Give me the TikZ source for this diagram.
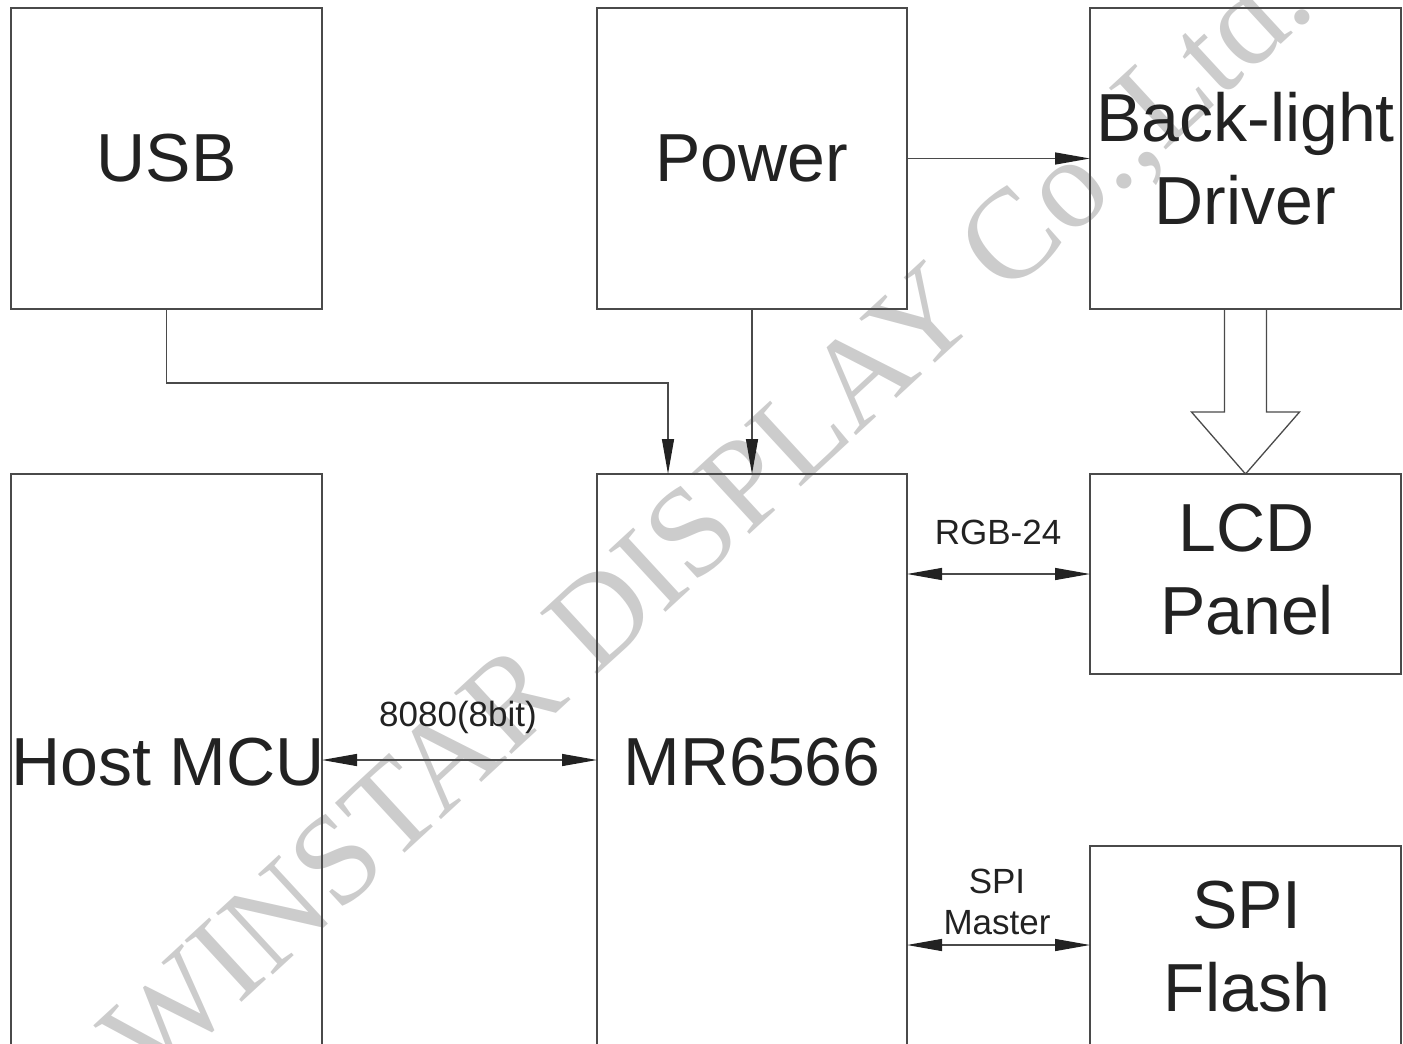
\documentclass[tikz,border=0pt]{standalone}
\usepackage{fontspec}
\setmainfont{Liberation Sans}
\newfontfamily\wmfont{Liberation Serif}
\usetikzlibrary{arrows.meta,calc}
\definecolor{txt}{HTML}{222222}
\definecolor{ln}{HTML}{4A4A4A}
\definecolor{wmc}{HTML}{CCCCCC}
\begin{document}
\begin{tikzpicture}[x=1pt,y=-1pt,
  box/.style={draw=ln, line width=1.3pt, inner sep=0pt, outer sep=0pt},
  conn/.style={draw=ln, line width=1.3pt},
  big/.style={font=\fontsize{68}{83}\selectfont, text=txt, align=center, inner sep=0pt},
  small/.style={font=\fontsize{35}{41}\selectfont, text=txt, align=center, inner sep=0pt},
  wmtext/.style={font=\wmfont\fontsize{128}{128}\selectfont, text=wmc, inner sep=0pt},
  >={Triangle[length=35pt,width=12pt,color=txt]}]
\useasboundingbox (0,0) rectangle (1403,1044);
\clip (0,0) rectangle (1403,1044);
% watermark
\node[wmtext, rotate=42.7, anchor=base west] (wmark) at (150,1088) {WINSTAR DISPLAY Co.,Ltd.};
% boxes
\node[box, minimum width=311pt, minimum height=301pt] (usb) at (166.5,158.5) {};
\node[box, minimum width=310pt, minimum height=301pt] (power) at (752,158.5) {};
\node[box, minimum width=311pt, minimum height=301pt] (bl) at (1245.5,158.5) {};
\node[box, minimum width=311pt, minimum height=626pt] (host) at (166.5,787) {};
\node[box, minimum width=310pt, minimum height=626pt] (mr) at (752,787) {};
\node[box, minimum width=311pt, minimum height=200pt] (lcd) at (1245.5,574) {};
\node[box, minimum width=311pt, minimum height=254pt] (flash) at (1245.5,973) {};
% texts
\node[big] (usbt) at (usb) {USB};
\node[big] (powt) at (power) {Power};
\node[big] (blt) at (1245.5,159) {Back-light\\Driver};
\node[big] (lcdt) at (1247,570) {LCD\\Panel};
\node[big] (flt) at (1247,947) {SPI\\Flash};
\node[big, anchor=base] (hostt) at (168,785) {Host MCU};
\node[big, anchor=base] (mrt) at (752,785) {MR6566};
\node[small, anchor=base] (l8080) at (458,726) {8080(8bit)};
\node[small, anchor=base] (lrgb) at (998,544) {RGB-24};
\node[small] (lspi) at (997,902) {SPI\\Master};
% connectors
\coordinate (j1) at (668,383);
\draw[conn,->] (usb.south) |- (j1) -- (j1 |- mr.north);
\draw[conn,->] (power.south) -- (mr.north -| power.south);
\draw[conn,->] (power.east) -- (bl.west);
\coordinate (y8) at (0,760);
\draw[conn,<->] (host.east |- y8) -- (mr.west |- y8);
\draw[conn,<->] (mr.east |- lcd.west) -- (lcd.west);
\coordinate (ys) at (0,945);
\draw[conn,<->] (mr.east |- ys) -- (flash.west |- ys);
% hollow arrow
\draw[conn, line join=miter] ($(bl.south)+(-21,0)$) -- ($(lcd.north)+(-21,-62)$)
  -- ($(lcd.north)+(-54,-62)$) -- (lcd.north) -- ($(lcd.north)+(54,-62)$)
  -- ($(lcd.north)+(21,-62)$) -- ($(bl.south)+(21,0)$);
\end{tikzpicture}
\end{document}
